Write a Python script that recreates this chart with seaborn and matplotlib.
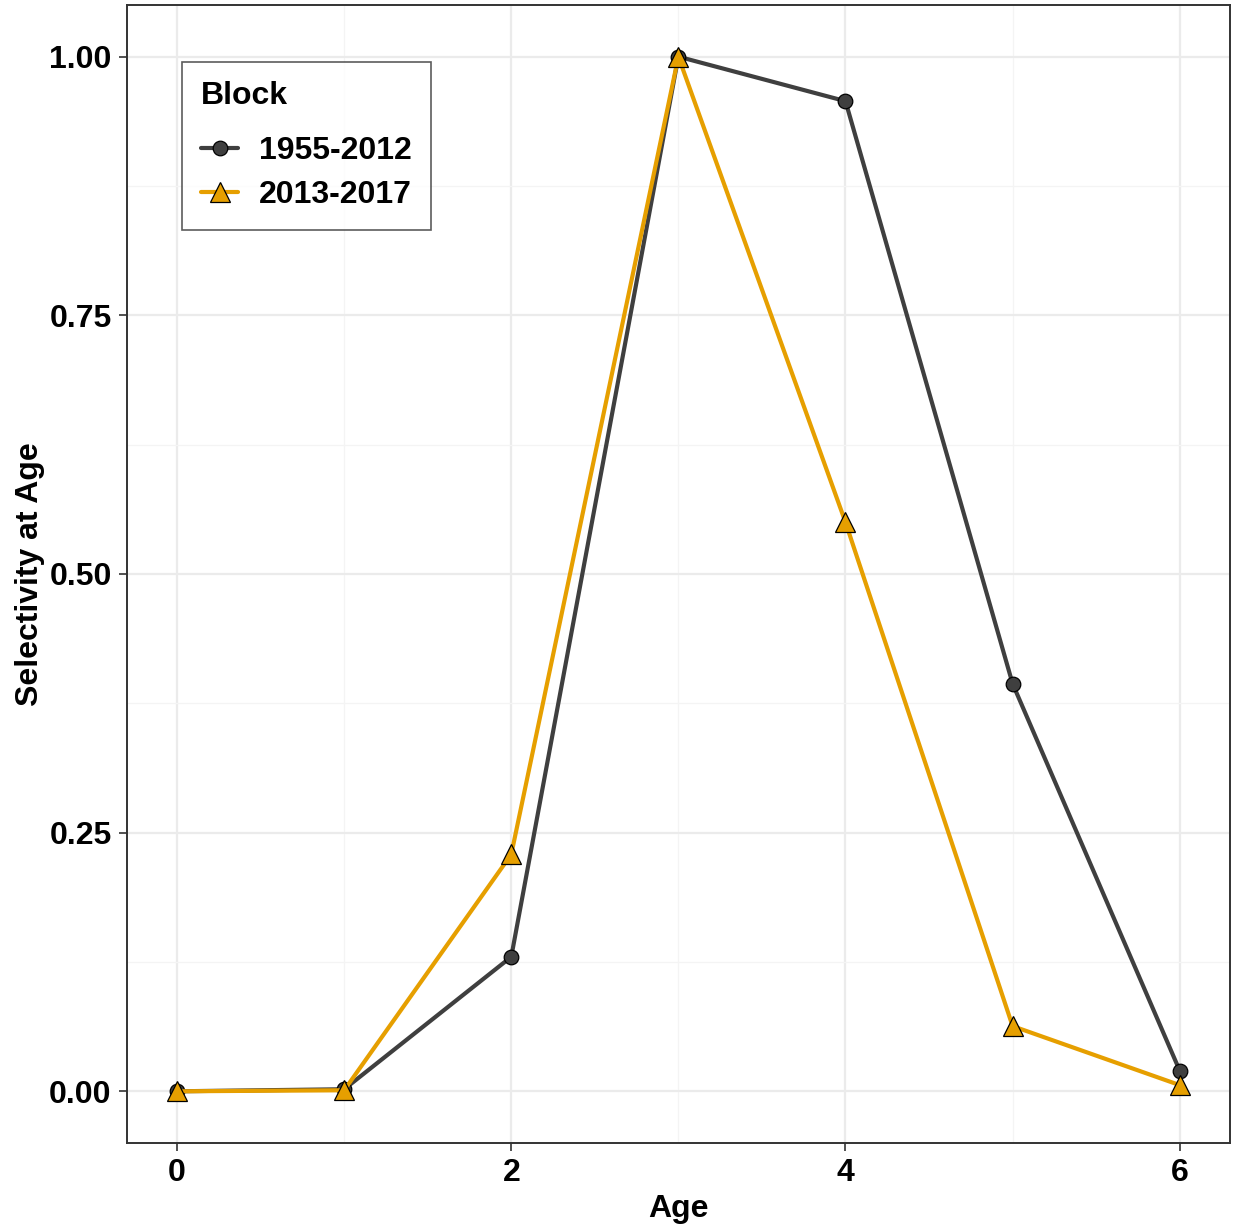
import pandas as pd
import seaborn as sns
import matplotlib.pyplot as plt
from matplotlib.ticker import MultipleLocator

# Data
ages = [0, 1, 2, 3, 4, 5, 6]
sel_1955_2012 = [0.0, 0.002, 0.130, 1.0, 0.957, 0.394, 0.020]
sel_2013_2017 = [0.0, 0.001, 0.229, 1.0, 0.550, 0.063, 0.006]
blocks = ['1955-2012', '2013-2017']

df = pd.DataFrame({
    'Age': ages * 2,
    'Selectivity': sel_1955_2012 + sel_2013_2017,
    'Block': [blocks[0]] * len(ages) + [blocks[1]] * len(ages),
})

sns.set_style('white')
plt.rcParams['font.family'] = ['Liberation Sans', 'DejaVu Sans']
plt.rcParams['font.weight'] = 'bold'
plt.rcParams['text.color'] = 'black'
plt.rcParams['axes.labelcolor'] = 'black'

fig = plt.figure(figsize=(12.36, 12.3), dpi=100)
ax = fig.add_axes([0.1027, 0.0707, 0.8923, 0.9253])

palette = {'1955-2012': '#3f3f3f', '2013-2017': '#E69F00'}
markers = {'1955-2012': 'o', '2013-2017': '^'}
msize = {'o': 10.5, '^': 14}

sns.lineplot(data=df, x='Age', y='Selectivity', hue='Block', style='Block',
             palette=palette, markers=markers, dashes=False, linewidth=3,
             markersize=12, markeredgecolor='black', markeredgewidth=0.9,
             ax=ax, zorder=3)

# circles a bit smaller, triangles bigger (like ggplot shapes)
for ln in ax.lines:
    if ln.get_marker() in msize:
        ln.set_markersize(msize[ln.get_marker()])

ax.set_xlim(-0.3, 6.3)
ax.set_ylim(-0.05, 1.05)
ax.xaxis.set_major_locator(MultipleLocator(2))
ax.xaxis.set_minor_locator(MultipleLocator(1))
ax.yaxis.set_major_locator(MultipleLocator(0.25))
ax.yaxis.set_minor_locator(MultipleLocator(0.125))
ax.yaxis.set_major_formatter(plt.FormatStrFormatter('%.2f'))

ax.grid(which='major', color='#ebebeb', linewidth=1.6, zorder=0)
ax.grid(which='minor', color='#f4f4f4', linewidth=0.9, zorder=0)
ax.set_axisbelow(True)

for s in ax.spines.values():
    s.set_color('#333333')
    s.set_linewidth(1.4)

ax.tick_params(axis='both', which='major', length=6, width=1.2, color='#333333',
               labelsize=23, labelcolor='black', bottom=True, left=True, pad=5)
ax.tick_params(axis='both', which='minor', length=0)
for lab in ax.get_xticklabels() + ax.get_yticklabels():
    lab.set_fontweight('bold')

ax.set_xlabel('Age', fontsize=23, fontweight='bold', labelpad=4)
ax.set_ylabel('Selectivity at Age', fontsize=23, fontweight='bold', labelpad=3)

leg = ax.legend(title='Block', loc='upper left', bbox_to_anchor=(0.05, 0.95),
                borderaxespad=0, fontsize=23, title_fontsize=23, frameon=True,
                fancybox=False, borderpad=0.6, handlelength=1.15,
                handletextpad=0.65, labelspacing=0.45, alignment='left')
leg.get_frame().set_edgecolor('#333333')
leg.get_frame().set_linewidth(1.2)
leg.get_title().set_fontweight('bold')
leg.get_title().set_color('black')
for t in leg.get_texts():
    t.set_fontweight('bold')
    t.set_color('black')
for h in leg.legend_handles:
    if h.get_marker() in msize:
        h.set_markersize(msize[h.get_marker()])
# more room between title and entries
leg._legend_box.sep = 18

fig.savefig('out.png', dpi=100)
